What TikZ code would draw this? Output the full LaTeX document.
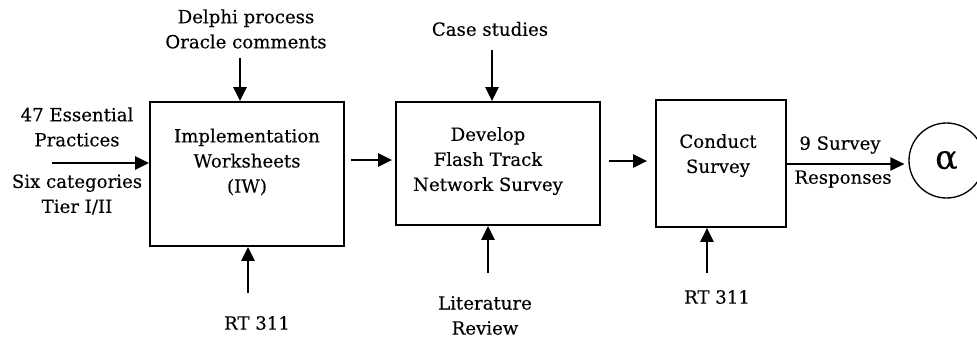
\documentclass[tikz,border=0pt]{standalone}
\usepackage{fontspec}
\setmainfont{DejaVu Serif}[FakeBold=0.25]
\usetikzlibrary{arrows.meta,calc}

\begin{document}
\begin{tikzpicture}[x=0.75pt,y=-0.75pt,
  line width=1.4pt,
  box/.style={draw,line width=1.4pt,inner sep=0pt,anchor=center},
  lbl/.style={align=center,inner sep=0pt,anchor=center,font=\fontsize{13.6}{18.8}\selectfont},
  arr/.style={-{Triangle[length=10.5pt,width=10pt]}}]
\useasboundingbox (0,0) rectangle (977,343);

% process boxes
\node[box,minimum width=194*0.75pt,minimum height=144*0.75pt] (b1) at (247,174) {};
\node[box,minimum width=204*0.75pt,minimum height=123*0.75pt] (b2) at (498,163.5) {};
\node[box,minimum width=130*0.75pt,minimum height=127*0.75pt] (b3) at (721,163.5) {};
\node[draw,circle,line width=1pt,minimum size=75*0.75pt,inner sep=0pt] (out) at (946.5,160.5)
  {\fontsize{25}{25}\selectfont α};

% box captions
\node[lbl] (t1) at (247,162) {Implementation\\Worksheets\\(IW)};
\node[lbl] (t2) at (488,161) {Develop\\Flash Track\\Network Survey};
\node[lbl] (t3) at (718,155.5) {Conduct\\Survey};

% inputs and controls
\node[lbl] (in1) at (77,127) {47 Essential\\Practices};
\node[lbl] (in2) at (77,194.5) {Six categories\\Tier I/II};
\node[lbl] (c1) at (246,29) {Delphi process\\Oracle comments};
\node[lbl] (m1) at (257,323) {RT 311};
\node[lbl] (c2) at (490,29) {Case studies};
\node[lbl] (m2) at (485,315.5) {Literature\\Review};
\node[lbl] (m3) at (717,297) {RT 311};
\node[lbl] (o1) at (840,145) {9 Survey};
\node[lbl] (o2) at (843,179) {Responses};

% free arrow ends
\coordinate (a0) at (52,163);
\coordinate (a1) at (240,58);
\coordinate (a2) at (248,293);
\coordinate (a3) at (492,50);
\coordinate (a4) at (488,273);
\coordinate (a5) at (707,273);
\coordinate (y1) at (370,160);
\coordinate (y2) at (628,161);
\coordinate (y3) at (845,164);

% connectors
\draw[arr] (a0) -- (a0 -| b1.west);
\draw[arr] (a1) -- (a1 |- b1.north);
\draw[arr] (a2) -- (a2 |- b1.south);
\draw[arr] (a3) -- (a3 |- b2.north);
\draw[arr] (a4) -- (a4 |- b2.south);
\draw[arr] (a5) -- (a5 |- b3.south);
\draw[arr,shorten <=6pt*0.75,shorten >=3pt*0.75] (b1.east |- y1) -- (b2.west |- y1);
\draw[arr,shorten <=8pt*0.75,shorten >=8pt*0.75] (b2.east |- y2) -- (b3.west |- y2);
\draw[arr,shorten >=3pt] (b3.east |- y3) -- (out.west |- y3);
\end{tikzpicture}
\end{document}
